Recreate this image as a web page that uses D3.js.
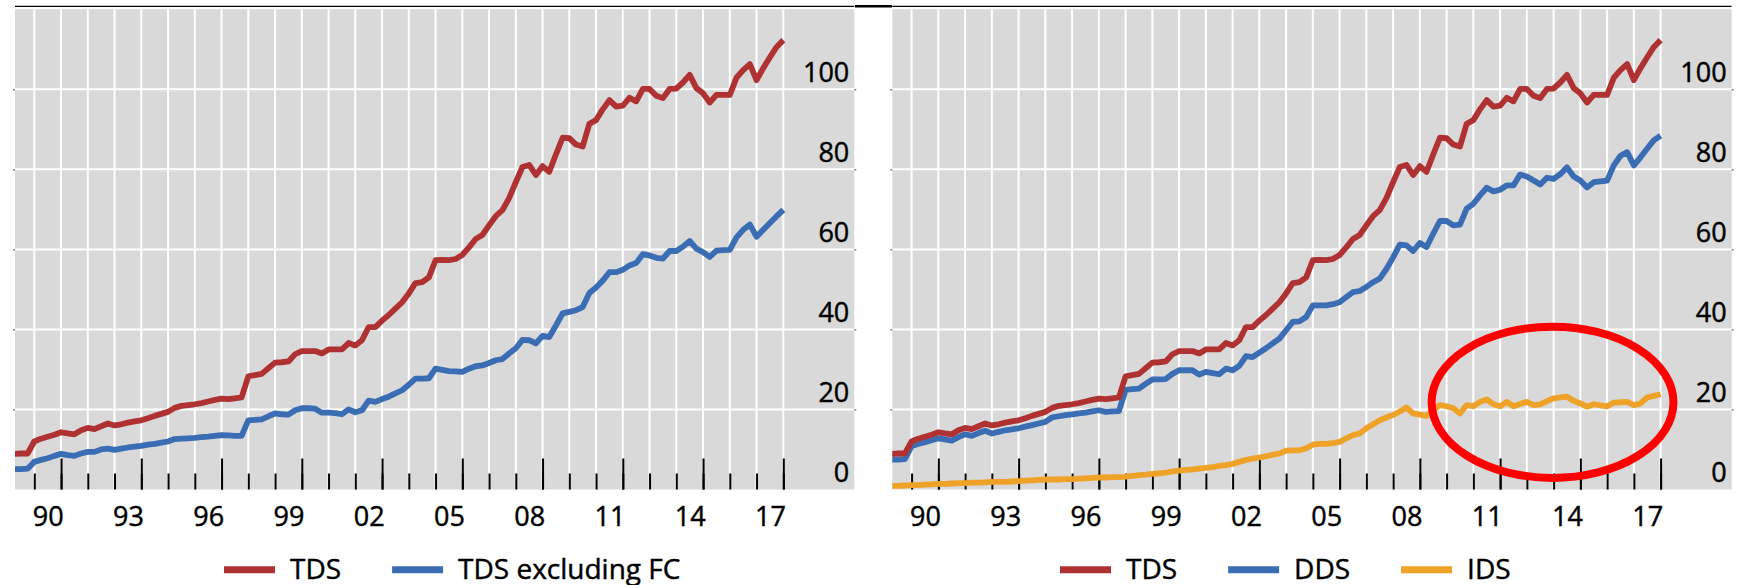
<!DOCTYPE html>
<html>
<head>
<meta charset="utf-8">
<script src="https://cdn.jsdelivr.net/npm/d3@7"></script>
<style>
  body { margin: 0; background: #fff; }
  svg { display: block; }
  text { font-family: "Open Sans", sans-serif; fill: #000; stroke: #000; stroke-width: 0.45px; }
</style>
</head>
<body>
<div id="chart"></div>
<script>
// quarterly observations, 1989 Q2 .. 2018 Q1 (year fractions)
const quarters = d3.range(116).map(i => 1989.25 + i / 4);

// total debt securities, % of GDP (same line in both panels)
const tds = [
  8.9, 9.0, 9.0,
  12.0, 12.7, 13.2, 13.7,   14.3, 14.0, 13.8, 14.8,   15.4, 15.1, 15.8, 16.5,
  16.0, 16.3, 16.7, 17.0,   17.3, 17.8, 18.4, 18.9,   19.4, 20.4, 20.9, 21.1,
  21.3, 21.6, 22.0, 22.4,   22.7, 22.6, 22.8, 23.0,   28.3, 28.6, 28.9, 30.3,
  31.7, 31.8, 32.0, 33.8,   34.6, 34.6, 34.6, 34.0,   35.0, 35.0, 35.0, 36.6,
  36.0, 37.3, 40.6, 40.6,   42.2, 43.6, 45.2, 46.8,   49.0, 51.6, 51.8, 53.0,
  57.3, 57.4, 57.3, 57.6,   58.6, 60.5, 62.6, 63.6,   66.0, 68.3, 69.8, 72.8,
  76.8, 80.6, 81.1, 78.6,   80.8, 79.4, 83.7, 87.9,   87.8, 86.2, 85.7, 91.4,
  92.3, 95.0, 97.3, 95.7,   95.9, 97.9, 97.0, 100.1,  100.1, 98.4, 97.8, 100.1,
  100.2, 101.7, 103.6, 100.3, 99.0, 96.7, 98.6, 98.6, 98.6, 102.9, 104.8, 106.3,
  102.3, 105.3, 108.0, 110.6,
  112.3
];

const tdsExFC = [
  5.1, 5.1, 5.2,
  6.9, 7.4, 7.8, 8.4,       8.9, 8.6, 8.4, 9.0,       9.4, 9.4, 10.0, 10.2,
  9.9, 10.2, 10.5, 10.7,    10.9, 11.2, 11.4, 11.7,   12.0, 12.6, 12.7, 12.8,
  12.9, 13.1, 13.2, 13.4,   13.6, 13.5, 13.4, 13.4,   17.3, 17.4, 17.5, 18.3,
  19.0, 18.8, 18.7, 19.8,   20.3, 20.3, 20.2, 19.2,   19.2, 19.1, 18.8, 20.0,
  19.3, 19.8, 22.2, 21.9,   22.6, 23.2, 24.0, 24.8,   26.2, 27.7, 27.7, 27.8,
  30.2, 29.9, 29.6, 29.5,   29.4, 30.2, 30.8, 31.0,   31.6, 32.3, 32.6, 34.0,
  35.3, 37.4, 37.3, 36.5,   38.4, 38.1, 41.0, 44.0,   44.4, 44.8, 45.6, 49.1,
  50.5, 52.2, 54.3, 54.3,   54.9, 56.0, 56.6, 58.8,   58.5, 57.9, 57.7, 59.6,
  59.6, 60.7, 62.1, 60.2,   59.3, 58.1, 59.7, 59.8,   59.9, 63.0, 64.9, 66.2,
  63.2, 64.9, 66.6, 68.3,
  69.9
];

const dds = [
  7.5, 7.5, 7.6,
  10.8, 11.4, 11.8, 12.3,   12.8, 12.5, 12.2, 13.1,   13.8, 13.4, 14.1, 14.7,
  14.0, 14.4, 14.8, 15.0,   15.3, 15.7, 16.1, 16.5,   16.9, 18.0, 18.3, 18.6,
  18.8, 19.0, 19.2, 19.5,   19.8, 19.4, 19.5, 19.6,   24.9, 25.1, 25.2, 26.4,
  27.5, 27.5, 27.6, 28.9,   29.8, 29.8, 29.8, 28.7,   29.4, 29.1, 28.8, 30.2,
  29.8, 30.9, 33.3, 33.1,   34.2, 35.3, 36.5, 37.7,   39.8, 41.9, 42.0, 43.1,
  46.0, 46.0, 46.0, 46.3,   46.8, 48.1, 49.3, 49.6,   50.6, 51.8, 52.7, 55.1,
  58.0, 61.2, 61.0, 59.6,   61.6, 60.6, 63.9, 67.1,   67.1, 66.0, 66.2, 70.2,
  71.4, 73.5, 75.4, 74.5,   74.9, 76.0, 76.0, 78.7,   78.2, 77.2, 76.2, 77.9,
  77.6, 78.8, 80.5, 78.2,   77.2, 75.5, 76.8, 77.0,   77.2, 81.0, 83.4, 84.3,
  81.0, 83.0, 85.2, 87.3,
  88.4
];

const ids = [
  0.9, 0.9, 1.0,
  1.1, 1.1, 1.2, 1.3,       1.4, 1.4, 1.5, 1.6,       1.6, 1.7, 1.7, 1.8,
  1.9, 1.9, 1.9, 2.0,       2.1, 2.2, 2.3, 2.4,       2.5, 2.5, 2.5, 2.6,
  2.6, 2.7, 2.8, 2.9,       3.0, 3.0, 3.1, 3.1,       3.2, 3.4, 3.6, 3.7,
  3.9, 4.0, 4.2, 4.5,       4.7, 4.9, 5.0, 5.2,       5.4, 5.6, 5.9, 6.1,
  6.4, 6.9, 7.4, 7.7,       8.0, 8.3, 8.7, 9.0,       9.7, 9.8, 9.8, 10.3,
  11.2, 11.4, 11.4, 11.6,   11.9, 12.8, 13.6, 14.0,   15.3, 16.3, 17.3, 18.0,
  18.6, 19.5, 20.5, 19.0,   18.7, 18.4, 19.8, 21.1,   20.8, 20.3, 19.0, 21.1,
  20.8, 21.9, 22.5, 21.3,   20.8, 21.9, 20.8, 21.4,   21.9, 21.1, 21.3, 22.1,
  22.8, 23.0, 23.2, 22.2,   21.5, 20.7, 21.3, 21.0,   20.8, 21.7, 21.8, 21.9,
  21.1, 21.5, 23.0, 23.4,
  23.8
];

// axis categories and labels
const gridYears = d3.range(1990, 2019);
const labelYears = [1990, 1993, 1996, 1999, 2002, 2005, 2008, 2011, 2014, 2017];
const yearLabels = ["90", "93", "96", "99", "02", "05", "08", "11", "14", "17"];
const yTicks = [0, 20, 40, 60, 80, 100];

// highlight around the post-2009 IDS plateau (year, value, half-width in years, half-height in value)
const highlight = { year: 2013.96, value: 21.8, rx: 4.52, ry: 18.9 };

const red = "#af3131", blue = "#3a6db4", orange = "#eea228";

const panels = [
  { left: 15, legendX: 224,
    series: [ { name: "TDS", values: tds, color: red },
              { name: "TDS excluding FC", values: tdsExFC, color: blue } ] },
  { left: 892.3, legendX: 1060, highlight: true,
    series: [ { name: "TDS", values: tds, color: red },
              { name: "DDS", values: dds, color: blue },
              { name: "IDS", values: ids, color: orange } ] }
];

const W = 1749, H = 585;
const plotW = 839.3, plotTop = 9.3, plotBottom = 489.5;

const svg = d3.select("#chart").append("svg")
    .attr("width", W)
    .attr("height", H);

// thick bar joining the two top rules
svg.append("line")
    .attr("x1", 855).attr("x2", 892)
    .attr("y1", 6.3).attr("y2", 6.3)
    .attr("stroke", "#000").attr("stroke-width", 2.6);

const xScale = d3.scaleLinear().domain([1989.279, 2020.654]).range([0, plotW]);
const yScale = d3.scaleLinear().domain([0, 120]).range([plotBottom, plotTop]);

const line = d3.line()
    .x(function(d) { return xScale(d.q); })
    .y(function(d) { return yScale(d.v); });

panels.forEach(function(p, pi) {
    const g = svg.append("g").attr("transform", "translate(" + p.left + ",0)");

    // top rule
    g.append("line")
        .attr("x1", 0).attr("x2", plotW)
        .attr("y1", 6.3).attr("y2", 6.3)
        .attr("stroke", "#000").attr("stroke-width", 1.2);

    // grey plot background
    g.append("rect")
        .attr("x", 0).attr("y", plotTop)
        .attr("width", plotW).attr("height", plotBottom - plotTop)
        .attr("fill", "#d9d9d9");

    // horizontal grid
    g.append("g").selectAll("line")
        .data(yTicks.filter(d => d > 0))
        .enter().append("line")
        .attr("x1", 0).attr("x2", plotW)
        .attr("y1", d => yScale(d)).attr("y2", d => yScale(d))
        .attr("stroke", "#fff").attr("stroke-width", 2);

    // vertical grid, one per year
    g.append("g").selectAll("line")
        .data(gridYears)
        .enter().append("line")
        .attr("x1", d => xScale(d)).attr("x2", d => xScale(d))
        .attr("y1", plotTop).attr("y2", plotBottom)
        .attr("stroke", "#fff").attr("stroke-width", 2);

    // tiny edge ticks
    g.append("g")
        .call(d3.axisLeft(yScale).tickValues(yTicks.slice(1)).tickSize(2).tickFormat(""))
        .call(a => a.select(".domain").remove())
        .selectAll("line").attr("stroke", "#444");
    g.append("g")
        .attr("transform", "translate(" + plotW + ",0)")
        .call(d3.axisRight(yScale).tickValues(yTicks.slice(1)).tickSize(2).tickFormat(""))
        .call(a => a.select(".domain").remove())
        .selectAll("line").attr("stroke", "#444");

    // bottom tick marks pointing up: yearly minor, every third year major
    g.append("g")
        .attr("transform", "translate(0," + plotBottom + ")")
        .call(d3.axisBottom(xScale).tickValues(gridYears).tickSize(-16).tickFormat(""))
        .call(a => a.select(".domain").remove())
        .selectAll("line").attr("stroke", "#000").attr("stroke-width", 2);
    g.append("g")
        .attr("transform", "translate(0," + plotBottom + ")")
        .call(d3.axisBottom(xScale).tickValues(labelYears.map(d => d + 1)).tickSize(-31).tickFormat(""))
        .call(a => a.select(".domain").remove())
        .selectAll("line").attr("stroke", "#000").attr("stroke-width", 2);

    // year labels centred inside their year
    g.append("g")
        .attr("transform", "translate(0," + plotBottom + ")")
        .call(d3.axisBottom(xScale)
            .tickValues(labelYears.map(d => d + 0.5))
            .tickSize(0).tickPadding(17.5)
            .tickFormat((d, i) => yearLabels[i]))
        .call(a => a.select(".domain").remove())
        .selectAll("text")
        .style("font-size", "27px")
        .style("font-family", "'Open Sans', sans-serif")
        .attr("fill", "#000")
        .attr("dy", "0.71em");

    // y labels inside plot, right aligned, sitting on their gridline
    g.append("g")
        .attr("transform", "translate(" + (plotW - 5) + ",-8.3)")
        .call(d3.axisLeft(yScale).tickValues(yTicks).tickSize(0).tickPadding(0))
        .call(a => a.select(".domain").remove())
        .selectAll("text")
        .attr("dy", 0)
        .style("font-size", "27px")
        .style("font-family", "'Open Sans', sans-serif")
        .attr("fill", "#000");

    // data lines
    const clipId = "clip" + pi;
    g.append("clipPath").attr("id", clipId)
        .append("rect")
        .attr("x", 0).attr("y", plotTop)
        .attr("width", plotW).attr("height", plotBottom - plotTop);

    const lines = g.append("g").attr("clip-path", "url(#" + clipId + ")");
    p.series.slice().reverse().forEach(function(s) {
        const pts = quarters.map((q, i) => ({ q: q, v: s.values[i] }));
        lines.append("path")
            .datum(pts)
            .attr("fill", "none")
            .attr("stroke", s.color)
            .attr("stroke-width", 5.8)
            .attr("stroke-linejoin", "round")
            .attr("d", line);
    });

    // red ellipse annotation
    if (p.highlight) {
        g.append("ellipse")
            .attr("cx", xScale(highlight.year))
            .attr("cy", yScale(highlight.value))
            .attr("rx", xScale(highlight.year + highlight.rx) - xScale(highlight.year))
            .attr("ry", yScale(0) - yScale(highlight.ry))
            .attr("fill", "none")
            .attr("stroke", "#ff0000")
            .attr("stroke-width", 8);
    }

    // legend
    const leg = svg.append("g");
    let lx = p.legendX;
    p.series.forEach(function(s) {
        leg.append("line")
            .attr("x1", lx).attr("x2", lx + 51)
            .attr("y1", 569.7).attr("y2", 569.7)
            .attr("stroke", s.color).attr("stroke-width", 7);
        const t = leg.append("text")
            .attr("x", lx + 66).attr("y", 578.5)
            .style("font-size", "28px")
            .text(s.name);
        lx += 66 + t.node().getComputedTextLength() + 51;
    });
});
</script>
</body>
</html>
